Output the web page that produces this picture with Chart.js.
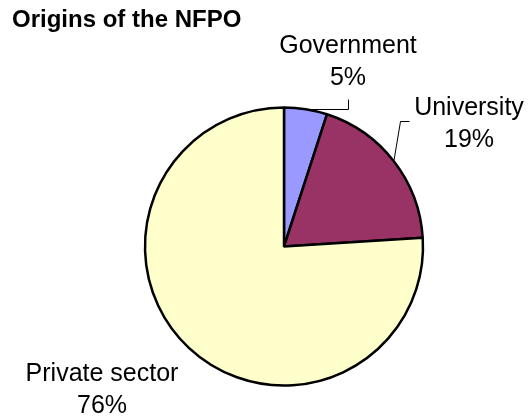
<!DOCTYPE html>
<html>
<head>
<meta charset="utf-8">
<script src="https://cdn.jsdelivr.net/npm/chart.js@4"></script>
<style>
  html, body { margin: 0; padding: 0; background: #ffffff; }
  #wrap { width: 529px; height: 418px; position: relative; }
</style>
</head>
<body>
<div id="wrap"><canvas id="c" width="529" height="418"></canvas></div>
<script>
// Where the Not-For-Profit Organisations came from (share of total, %)
const titleText = 'Origins of the NFPO';
const categories = ['Government', 'University', 'Private sector'];
const shares = [5, 19, 76];
const sliceColors = ['#9999FF', '#993366', '#FFFFCC'];

const FONT = '"Liberation Sans", Arial, sans-serif';

// Label placement: text centre x, first-line baseline, and optional leader elbow
const labelLayout = [
  { x: 348, y: 53, elbow: [348, 99], knee: [348, 'edge'] },
  { x: 469, y: 115, elbow: [409, 121], knee: [400, 121] },
  { x: 102, y: 381 }
];

const labelsPlugin = {
  id: 'sliceLabels',
  afterDraw(chart) {
    const ctx = chart.ctx;
    ctx.save();
    // title
    ctx.fillStyle = '#000';
    ctx.font = 'bold 24px ' + FONT;
    ctx.textAlign = 'left';
    ctx.textBaseline = 'alphabetic';
    ctx.fillText(titleText, 12, 27);

    const meta = chart.getDatasetMeta(0);
    const total = shares.reduce((a, b) => a + b, 0);
    meta.data.forEach((arc, i) => {
      const p = arc.getProps(['x', 'y', 'startAngle', 'endAngle', 'outerRadius'], true);
      const mid = (p.startAngle + p.endAngle) / 2;
      const ex = p.x + Math.cos(mid) * p.outerRadius;
      const ey = p.y + Math.sin(mid) * p.outerRadius;
      const L = labelLayout[i];

      // leader line
      if (L.elbow) {
        ctx.strokeStyle = '#000';
        ctx.lineWidth = 1;
        ctx.beginPath();
        ctx.moveTo(L.elbow[0] + 0.5, L.elbow[1] + 0.5);
        if (L.knee[1] === 'edge') {
          const ky = Math.round(ey);
          ctx.lineTo(L.knee[0] + 0.5, ky + 0.5);
          ctx.lineTo(ex, ky + 0.5);
        } else {
          ctx.lineTo(L.knee[0] + 0.5, L.knee[1] + 0.5);
          ctx.lineTo(ex, ey);
        }
        ctx.stroke();
      }

      ctx.fillStyle = '#000';
      ctx.font = '25px ' + FONT;
      ctx.textAlign = 'center';
      ctx.fillText(categories[i], L.x, L.y);
      const pct = Math.round(shares[i] / total * 100) + '%';
      ctx.fillText(pct, L.x, L.y + 32);
    });
    ctx.restore();
  }
};

new Chart(document.getElementById('c'), {
  type: 'pie',
  data: {
    labels: categories,
    datasets: [{
      data: shares,
      backgroundColor: sliceColors,
      borderColor: '#000000',
      borderWidth: 2.5,
      borderAlign: 'center',
      hoverOffset: 0
    }]
  },
  options: {
    responsive: false,
    animation: false,
    events: [],
    layout: { padding: { left: 143.75, right: 104.75, top: 106.25, bottom: 31.25 } },
    plugins: {
      legend: { display: false },
      title: { display: false },
      tooltip: { enabled: false }
    }
  },
  plugins: [labelsPlugin]
});
</script>
</body>
</html>
